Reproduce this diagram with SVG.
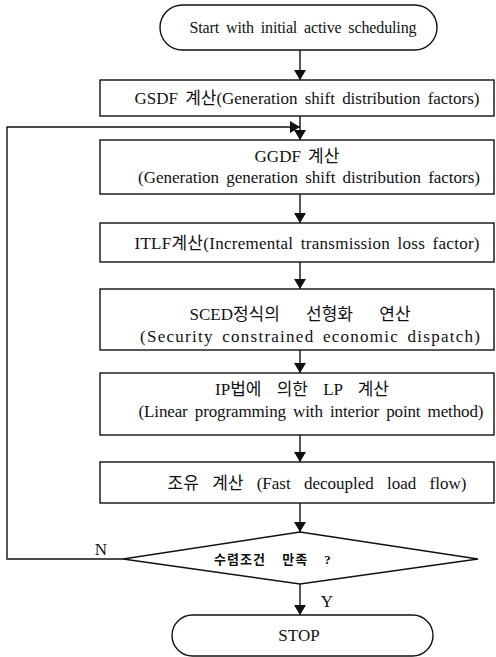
<svg xmlns="http://www.w3.org/2000/svg" width="496" height="657" viewBox="0 0 496 657">
<style>
.shape{fill:#fff;stroke:#111;stroke-width:1.4}
.line{fill:none;stroke:#111;stroke-width:1.4}
text{font-family:"Liberation Serif","Noto Sans CJK KR",serif;font-size:17px;fill:#111;text-anchor:middle;word-spacing:3px}
.ko{font-size:13px;font-weight:bold;word-spacing:12px;letter-spacing:1px}
.lbl{font-size:17px}
.ws{word-spacing:11px}
</style>
<defs>
<marker id="ah" viewBox="0 0 10 12" refX="10" refY="6" markerWidth="10" markerHeight="12" markerUnits="userSpaceOnUse" orient="auto">
<path d="M0,0 L10,6 L0,12 Z" fill="#111"/>
</marker>
</defs>
<rect width="496" height="657" fill="#fff"/>
<g id="connectors">
<line class="line" x1="300" y1="50" x2="300" y2="80" marker-end="url(#ah)"/>
<line class="line" x1="300" y1="116" x2="300" y2="140" marker-end="url(#ah)"/>
<line class="line" x1="300" y1="194" x2="300" y2="223" marker-end="url(#ah)"/>
<line class="line" x1="300" y1="262" x2="300" y2="289" marker-end="url(#ah)"/>
<line class="line" x1="300" y1="350" x2="300" y2="373" marker-end="url(#ah)"/>
<line class="line" x1="300" y1="435" x2="300" y2="462" marker-end="url(#ah)"/>
<line class="line" x1="300" y1="503" x2="300" y2="532" marker-end="url(#ah)"/>
<line class="line" x1="300" y1="584" x2="300" y2="615" marker-end="url(#ah)"/>
<polyline class="line" points="123,559 7,559 7,127 300,127" marker-end="url(#ah)"/>
<text class="lbl" x="101" y="555">N</text>
<text class="lbl" x="327" y="607">Y</text>
</g>
<g id="start">
<rect class="shape" x="160" y="5" width="277" height="45" rx="22.5"/>
<text x="303" y="33" style="font-size:16px" textLength="227" lengthAdjust="spacing">Start with initial active scheduling</text>
</g>
<g id="gsdf">
<rect class="shape" x="100" y="80" width="394" height="36"/>
<text x="307" y="104" textLength="345" lengthAdjust="spacing">GSDF 계산(Generation shift distribution factors)</text>
</g>
<g id="ggdf">
<rect class="shape" x="100" y="140" width="394" height="54"/>
<text x="297" y="162">GGDF 계산</text>
<text x="309" y="183" textLength="342" lengthAdjust="spacing">(Generation generation shift distribution factors)</text>
</g>
<g id="itlf">
<rect class="shape" x="100" y="223" width="394" height="39"/>
<text x="307" y="249" textLength="345" lengthAdjust="spacing">ITLF계산(Incremental transmission loss factor)</text>
</g>
<g id="sced">
<rect class="shape" x="100" y="289" width="394" height="61"/>
<text x="300" y="320" style="word-spacing:22px">SCED정식의 선형화 연산</text>
<text x="310" y="342" textLength="340" lengthAdjust="spacing">(Security constrained economic dispatch)</text>
</g>
<g id="ip">
<rect class="shape" x="100" y="373" width="394" height="62"/>
<text x="302" y="395" class="ws">IP법에 의한 LP 계산</text>
<text x="311" y="417" textLength="345" lengthAdjust="spacing">(Linear programming with interior point method)</text>
</g>
<g id="loadflow">
<rect class="shape" x="100" y="462" width="394" height="41"/>
<text x="317" y="489" style="word-spacing:9px">조유 계산 (Fast decoupled load flow)</text>
</g>
<g id="decision">
<polygon class="shape" points="300,532 478,559 300,584 123,559"/>
<text class="ko" x="273" y="564">수렴조건 만족 ?</text>
</g>
<g id="stop">
<rect class="shape" x="172" y="615" width="261" height="41" rx="20.5"/>
<text class="lbl" x="299" y="641">STOP</text>
</g>
</svg>
